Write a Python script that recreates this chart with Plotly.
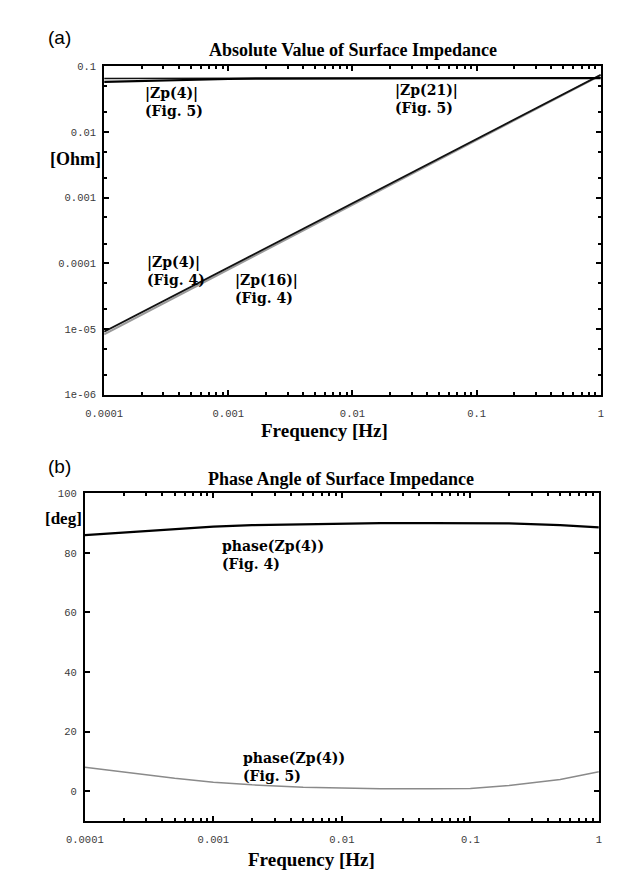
import plotly.graph_objects as go

W, H = 617, 881

# ---------------- data ----------------
freq_a = [1e-4, 1e-3, 1e-2, 1e-1, 1.0]
zp4_fig4 = [9.1e-6, 8.6e-5, 8.1e-4, 7.7e-3, 0.074]
zp16_fig4 = [8.3e-6, 8.0e-5, 7.7e-4, 7.5e-3, 0.073]

freq_top = [1e-4, 2e-4, 5e-4, 1e-3, 2e-3, 1e-2, 1e-1, 1.0]
zp4_fig5 = [0.058, 0.060, 0.062, 0.064, 0.065, 0.0655, 0.066, 0.066]
zp21_fig5 = [0.065, 0.0651, 0.0652, 0.0653, 0.0655, 0.0658, 0.0665, 0.0667]

freq_b = [1e-4, 2e-4, 5e-4, 1e-3, 2e-3, 5e-3, 1e-2, 2e-2, 5e-2, 0.1, 0.2, 0.5, 1.0]
phase_fig4 = [86.0, 86.9, 88.0, 88.8, 89.3, 89.6, 89.9, 90.0, 90.0, 90.0, 89.9, 89.3, 88.6]
phase_fig5 = [8.0, 6.3, 4.3, 3.0, 2.1, 1.3, 0.9, 0.75, 0.75, 0.85, 1.9, 3.9, 6.5]

x_tickvals = [1e-4, 1e-3, 1e-2, 1e-1, 1]
x_ticktext = ["0.0001", "0.001", "0.01", "0.1", "1"]
ya_tickvals = [1e-6, 1e-5, 1e-4, 1e-3, 1e-2, 1e-1]
ya_ticktext = ["1e-06", "1e-05", "0.0001", "0.001", "0.01", "0.1"]
yb_tickvals = [0, 20, 40, 60, 80, 100]
yb_ticktext = ["0", "20", "40", "60", "80", "100"]

# ---------------- helpers ----------------
def px(x):
    return x / W

def py(y):
    return 1 - y / H

SERIF = "Liberation Serif"
LABEL = "DejaVu Serif"
MONO = "Liberation Mono"

fig = go.Figure()

fig.add_trace(go.Scatter(x=freq_a, y=zp16_fig4, mode="lines",
                         line=dict(color="#9a9a9a", width=2), xaxis="x", yaxis="y"))
fig.add_trace(go.Scatter(x=freq_a, y=zp4_fig4, mode="lines",
                         line=dict(color="#111111", width=1.8), xaxis="x", yaxis="y"))
fig.add_trace(go.Scatter(x=freq_top, y=zp21_fig5, mode="lines",
                         line=dict(color="#111111", width=1.5), xaxis="x", yaxis="y"))
fig.add_trace(go.Scatter(x=freq_top, y=zp4_fig5, mode="lines",
                         line=dict(color="#000000", width=2.2), xaxis="x", yaxis="y"))

fig.add_trace(go.Scatter(x=freq_b, y=phase_fig4, mode="lines",
                         line=dict(color="#000000", width=2.2), xaxis="x2", yaxis="y2"))
fig.add_trace(go.Scatter(x=freq_b, y=phase_fig5, mode="lines",
                         line=dict(color="#8a8a8a", width=1.5), xaxis="x2", yaxis="y2"))

tickfont = dict(family=MONO, size=10.5, color="#3a3a3a")
axis_common = dict(showline=True, linecolor="black", linewidth=2, mirror="ticks",
                   ticks="inside", tickcolor="black", tickwidth=1.5, ticklen=5,
                   showgrid=False, zeroline=False, tickfont=tickfont)

fig.update_layout(
    width=W, height=H,
    margin=dict(l=0, r=0, t=0, b=0),
    paper_bgcolor="white", plot_bgcolor="white",
    showlegend=False,
    xaxis=dict(type="log", range=[-4, 0], domain=[px(80), px(595)], anchor="y",
               tickvals=x_tickvals, ticktext=x_ticktext, ticklabelstandoff=8,
               minor=dict(ticks="inside", ticklen=3, tickcolor="black", dtick="D1"),
               **axis_common),
    yaxis=dict(type="log", range=[-6, -1], domain=[py(387), py(54)], anchor="x",
               tickvals=ya_tickvals, ticktext=ya_ticktext, ticklabelstandoff=4,
               minor=dict(ticks="inside", ticklen=3, tickcolor="black", dtick="D2"),
               **axis_common),
    xaxis2=dict(type="log", range=[-4, 0], domain=[px(60), px(593)], anchor="y2",
                tickvals=x_tickvals, ticktext=x_ticktext, ticklabelstandoff=8,
                minor=dict(ticks="inside", ticklen=3, tickcolor="black", dtick="D1"),
                **axis_common),
    yaxis2=dict(range=[-10, 100], domain=[py(819), py(487)], anchor="x2",
                tickvals=yb_tickvals, ticktext=yb_ticktext, ticklabelstandoff=4,
                **axis_common),
)

def txt(text, x, y, size=15, family=SERIF, bold=True, xanchor="left", color="black"):
    if bold:
        text = "<br>".join("<b>%s</b>" % t for t in text.split("<br>"))
    fig.add_annotation(text=text, align="left",
                       x=px(x), y=py(y), xref="paper", yref="paper",
                       xanchor=xanchor, yanchor="middle", showarrow=False,
                       borderpad=0,
                       font=dict(family=family, size=size, color=color))

# panel labels
txt("(a)", 21, 25, size=19, family="Liberation Sans", bold=False)
txt("(b)", 21, 460, size=19, family="Liberation Sans", bold=False)
# titles
txt("Absolute Value of Surface Impedance", 338, 38, size=18, xanchor="center")
txt("Phase Angle of Surface Impedance", 326, 472, size=18, xanchor="center")
# axis titles
txt("[Ohm]", 23, 148, size=18)
txt("[deg]", 18, 512, size=17)
txt("Frequency [Hz]", 309, 423, size=19, xanchor="center")
txt("Frequency [Hz]", 295, 858, size=19, xanchor="center")
# curve labels panel a
LS = 14
txt("|Zp(4)|<br>(Fig. 5)", 121, 90, size=LS, family=LABEL)
txt("|Zp(21)|<br>(Fig. 5)", 381, 87, size=LS, family=LABEL)
txt("|Zp(4)|<br>(Fig. 4)", 123, 262, size=LS, family=LABEL)
txt("|Zp(16)|<br>(Fig. 4)", 215, 280, size=LS, family=LABEL)
# curve labels panel b
txt("phase(Zp(4))<br>(Fig. 4)", 201, 549, size=LS, family=LABEL)
txt("phase(Zp(4))<br>(Fig. 5)", 223, 764, size=LS, family=LABEL)

fig.write_html("out.html", config=dict(displayModeBar=False))
